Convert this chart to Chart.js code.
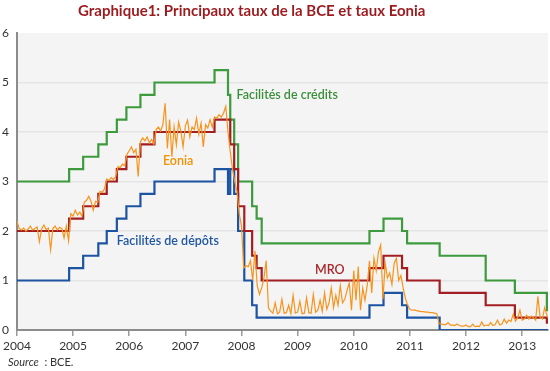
<!DOCTYPE html>
<html lang="fr">
<head>
<meta charset="utf-8">
<script src="https://cdn.jsdelivr.net/npm/chart.js@4.4.1/dist/chart.umd.min.js"></script>
<style>
  body { margin: 0; background: #fff; }
  #wrap { position: relative; width: 550px; height: 371px; }
  #title { position: absolute; left: 78px; top: 1px; font: bold 15px Lato, sans-serif; color: #9b1b1f; white-space: nowrap; }
  #source { position: absolute; left: 8px; top: 355px; font: 11px Lato, sans-serif; color: #333; }
</style>
</head>
<body>
<div id="wrap">
  <canvas id="myChart" width="550" height="371"></canvas>
  <div id="title">Graphique1: Principaux taux de la BCE et taux Eonia</div>
  <div id="source"><i>Source</i>&nbsp; : BCE.</div>
</div>
<script>
// Dates des changements de taux (echelle de l'axe, en annees decimales)
var changeDates = [2004.00, 2004.93, 2005.18, 2005.45, 2005.60, 2005.78, 2005.95, 2006.20, 2006.45,
    2007.52, 2007.76, 2007.80, 2007.87, 2007.94, 2008.05, 2008.19, 2008.27, 2008.36,
    2010.28, 2010.53, 2010.86, 2010.95, 2011.53, 2012.35, 2012.87, 2013.44, 2013.50];

var mroRates = [2.00, 2.25, 2.50, 2.75, 3.00, 3.25, 3.50, 3.75, 4.00,
    4.25, 4.25, 3.75, 3.25, 2.50, 2.00, 1.50, 1.25, 1.00,
    1.25, 1.50, 1.25, 1.00, 0.75, 0.50, 0.25, 0.15, 0.15];

var creditRates = [3.00, 3.25, 3.50, 3.75, 4.00, 4.25, 4.50, 4.75, 5.00,
    5.25, 4.75, 4.25, 3.75, 3.00, 3.00, 2.50, 2.25, 1.75,
    2.00, 2.25, 2.00, 1.75, 1.50, 1.00, 0.75, 0.40, 0.40];

var depositRates = [1.00, 1.25, 1.50, 1.75, 2.00, 2.25, 2.50, 2.75, 3.00,
    3.25, 2.75, 3.25, 2.75, 2.00, 1.00, 0.50, 0.25, 0.25,
    0.50, 0.75, 0.50, 0.25, 0.00, 0.00, 0.00, 0.00, 0.00];

// Eonia : une observation toutes les 0.04 annee a partir de 2004
var eoniaStart = 2004;
var eoniaStep = 0.04;
var eoniaValues = [
    2.2, 2.05, 2.02, 2.06, 2.0, 2.04, 2.1, 2.02, 2.05, 2.08, 1.78, 2.04, 2.12, 2.03, 2.06, 1.62, 2.05, 2.1, 2.02, 2.07, 2.05, 1.86, 2.1, 1.8,
    2.35, 2.3, 2.42, 2.32, 2.38, 2.3,
    2.58, 2.62, 2.7, 2.6, 2.42, 2.6, 2.58,
    2.8, 2.78, 2.85,
    3.05, 3.02, 3.08, 3.04, 3.1,
    3.3, 3.28, 3.35, 3.32,
    3.55, 3.62, 3.7, 3.58, 3.65, 3.1,
    3.8, 3.88, 3.82, 3.9, 3.78, 3.85, 3.75,
    4.05, 4.1, 4.02, 4.15, 4.58, 3.67, 4.25, 3.5, 4.1, 3.74, 4.2, 4.02, 3.7, 4.12, 4.24, 3.9, 4.1, 4.05, 4.28, 3.95, 4.18, 3.7, 4.15, 4.08, 4.25, 4.1,
    4.3, 4.28, 4.35, 4.3, 4.38, 4.52,
    4.0, 3.6, 3.25, 3.0, 2.8, 2.35, 2.1, 1.25, 1.3, 1.28, 1.4, 1.0, 1.6, 0.9, 0.72, 0.85, 1.05, 1.4, 0.45, 0.38,
    0.34, 0.55, 0.33, 0.36, 0.62, 0.34, 0.35, 0.5, 0.33, 0.7, 0.34, 0.36, 0.58, 0.33, 0.34, 0.65, 0.35, 0.34, 0.72, 0.36, 0.4, 0.6, 0.38, 0.75, 0.42, 0.55, 0.85, 0.45, 0.7, 0.5, 0.9, 0.55, 0.62, 0.8,
    0.95, 0.4, 1.2, 0.6, 1.28, 0.4, 0.85, 0.6, 0.9, 1.4, 0.75, 1.45, 1.2, 1.58, 1.72, 0.62, 1.35, 1.05, 1.15, 0.92, 1.35, 1.45, 1.0, 1.1, 0.85, 0.64, 0.5,
    0.42, 0.4, 0.4, 0.39, 0.38, 0.37, 0.37, 0.36, 0.36, 0.35, 0.35, 0.34, 0.33,
    0.13, 0.12, 0.11, 0.11, 0.15, 0.10, 0.1, 0.09, 0.12, 0.09, 0.08, 0.08,
    0.1, 0.07, 0.07, 0.12, 0.07, 0.08, 0.07, 0.16, 0.08, 0.1, 0.09, 0.15,
    0.09, 0.11, 0.2, 0.1, 0.12, 0.22,
    0.14, 0.2, 0.17, 0.32, 0.18, 0.25, 0.4, 0.2, 0.22, 0.3, 0.22, 0.28, 0.25, 0.2, 0.68, 0.25, 0.22, 0.45, 0.3, 0.2
];

var yearTicks = [2004, 2005, 2006, 2007, 2008, 2009, 2010, 2011, 2012, 2013];

// Etiquettes posees sur le graphique (coordonnees en unites des axes)
var seriesLabels = [
    { text: 'Facilités de crédits', x: 2007.91, y: 4.75, color: '#3a8f3a' },
    { text: 'Eonia', x: 2006.60, y: 3.41, color: '#f39200' },
    { text: 'Facilités de dépôts', x: 2005.78, y: 1.80, color: '#1f56a3' },
    { text: 'MRO', x: 2009.31, y: 1.21, color: '#a8272b' }
];

function toPoints(dates, values) {
    return dates.map(function (d, i) { return { x: d, y: values[i] }; });
}

var eoniaPoints = eoniaValues.map(function (v, i) {
    return { x: eoniaStart + i * eoniaStep, y: v };
});

var plotBackground = {
    id: 'plotBackground',
    beforeDraw: function (chart) {
        var a = chart.chartArea, ctx = chart.ctx;
        ctx.save();
        ctx.fillStyle = '#f4f4f4';
        ctx.fillRect(a.left, a.top, a.right - a.left, a.bottom - a.top);
        ctx.restore();
    }
};

var seriesLabelPlugin = {
    id: 'seriesLabels',
    afterDatasetsDraw: function (chart) {
        var ctx = chart.ctx, xs = chart.scales.x, ys = chart.scales.y;
        ctx.save();
        ctx.font = '600 12.5px Lato, sans-serif';
        ctx.textAlign = 'left';
        ctx.textBaseline = 'middle';
        seriesLabels.forEach(function (l) {
            ctx.fillStyle = l.color;
            ctx.fillText(l.text, xs.getPixelForValue(l.x), ys.getPixelForValue(l.y));
        });
        ctx.restore();
    }
};

var stepStyle = {
    stepped: 'before',
    borderWidth: 2.2,
    pointRadius: 0,
    fill: false,
    borderJoinStyle: 'miter'
};

new Chart(document.getElementById('myChart'), {
    type: 'line',
    data: {
        datasets: [
            { label: 'Eonia', data: eoniaPoints, borderColor: '#f7941d', borderWidth: 1.2, pointRadius: 0, tension: 0, order: 0 },
            Object.assign({ label: 'MRO', data: toPoints(changeDates, mroRates), borderColor: '#a31e22', order: 1 }, stepStyle),
            Object.assign({ label: 'Facilités de dépôts', data: toPoints(changeDates, depositRates), borderColor: '#1d54a2', order: 2 }, stepStyle),
            Object.assign({ label: 'Facilités de crédits', data: toPoints(changeDates, creditRates), borderColor: '#3d9a3d', order: 3 }, stepStyle)
        ]
    },
    options: {
        responsive: false,
        animation: false,
        devicePixelRatio: 1,
        layout: { padding: { top: 33, left: 0, right: 2, bottom: 18 } },
        plugins: {
            legend: { display: false },
            tooltip: { enabled: false },
            title: { display: false }
        },
        scales: {
            x: {
                type: 'linear',
                min: 2004,
                max: 2013.46,
                afterBuildTicks: function (scale) {
                    scale.ticks = yearTicks.map(function (v) { return { value: v }; });
                },
                afterFit: function (scale) { scale.height = 23; },
                ticks: {
                    color: '#333',
                    font: { family: 'Lato', size: 12 },
                    padding: 3,
                    maxRotation: 0,
                    callback: function (v) { return String(v); }
                },
                grid: { drawOnChartArea: false, tickLength: 6, color: '#9a9a9a', lineWidth: 1.5 },
                border: { color: '#8c8c8c', width: 2 }
            },
            y: {
                min: 0,
                max: 6,
                afterFit: function (scale) { scale.width = 15; },
                ticks: {
                    stepSize: 1,
                    color: '#333',
                    font: { family: 'Lato', size: 12 },
                    padding: 8
                },
                grid: {
                    drawTicks: false,
                    lineWidth: 1.5,
                    color: function (c) { return c.tick && c.tick.value === 6 ? 'rgba(0,0,0,0)' : '#e4e4e4'; }
                },
                border: { color: '#8c8c8c', width: 2 }
            }
        }
    },
    plugins: [plotBackground, seriesLabelPlugin]
});
</script>
</body>
</html>
